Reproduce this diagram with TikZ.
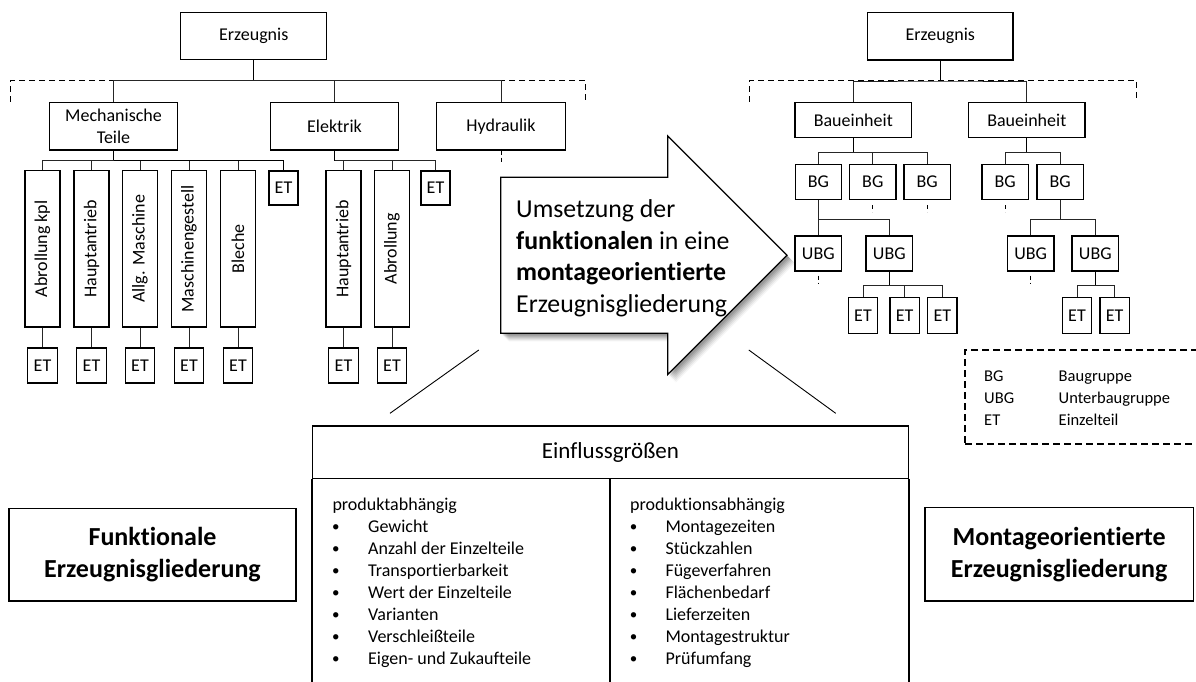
\documentclass[tikz,border=0pt]{standalone}
\usepackage{fontspec}
\setmainfont{Carlito}[Ligatures={NoCommon,NoRequired,NoContextual}]
\usepackage{graphicx}

% outline of the big transfer arrow
\newcommand\umsArrow{(500.7,177.3) -- (667.7,177.3) -- (667.7,136) -- (787,255.3) -- (667.7,374.6) -- (667.7,333.3) -- (500.7,333.3) -- cycle}

\begin{document}
\begin{tikzpicture}[x=1pt,y=-1pt,
  box/.style={draw, line width=1.3pt, inner sep=0pt, align=center, fill=white,
              font=\fontsize{18}{22.6}\selectfont},
  tallbox/.style={box, minimum width=35pt, minimum height=156.3pt},
  etbox/.style={box, minimum width=29.5pt, minimum height=35pt},
  bgbox/.style={box, minimum width=46.5pt, minimum height=34.8pt},
  link/.style={line width=0.9pt, draw=black!85},
  trunk/.style={line width=1.3pt},
  cut/.style={line width=0.9pt, dash pattern=on 6pt off 4pt},
  stub/.style={line width=0.9pt, dash pattern=on 4pt off 3pt},
  bigbox/.style={draw, line width=1.3pt, inner sep=0pt, align=center,
                 font=\bfseries\fontsize{26}{31.7}\selectfont},
  arrowtext/.style={anchor=base west, inner sep=0pt, font=\fontsize{25.8}{31}\selectfont},
  listtext/.style={anchor=base west, inner sep=0pt, font=\fontsize{18}{22}\selectfont},
  bullettext/.style={anchor=base west, inner sep=0pt, font=\fontsize{15}{22}\selectfont},
  legtext/.style={anchor=base west, inner sep=0pt, font=\fontsize{16.5}{22}\selectfont},
]
\useasboundingbox (0,0) rectangle (1196,682);
\clip (0,0) rectangle (1196,682);
\fill[white] (0,0) rectangle (1196,682);

% ---------------- functional product structure (left tree)
\coordinate (lcutA) at (10,101.7);
\coordinate (lcutB) at (10,80.7);
\coordinate (lcutC) at (585.5,80.7);
\coordinate (lcutD) at (585.5,101.7);
\draw[cut] (lcutA) -- (lcutB) -- (lcutC) -- (lcutD);

\node[box, minimum width=146pt, minimum height=46.7pt] (lprod) at (253.7,36) {Erzeugnis};
\node[box, minimum width=128.4pt, minimum height=47.3pt] (mech) at (113.5,126.3) {Mechanische\\Teile};
\node[box, minimum width=128.4pt, minimum height=47.3pt] (elek) at (334.5,126.3) {Elektrik};
\node[box, minimum width=128.9pt, minimum height=47.3pt] (hydr) at (501,126.3) {Hydraulik};

\draw[trunk] (lprod.south) -- ++(0,20.7) coordinate (lbr);
\draw[link] (mech.north) |- (lbr) -| (hydr.north);
\draw[link] (lbr) -| (elek.north);
\draw[stub] (hydr.south) -- ++(0,13);

\foreach \n/\x/\t in {1/42.5/Abrollung kpl, 2/91.5/Hauptantrieb, 3/140/Allg. Maschine,
                      4/189/Maschinengestell, 5/238/Bleche, 6/343.5/Hauptantrieb, 7/392/Abrollung} {
  \node[tallbox] (tb\n) at (\x,248.8) {\rotatebox{90}{\t}};
  \node[etbox] (tbet\n) at (\x,365.5) {ET};
  \draw[link] (tb\n.south) -- (tbet\n.north);
}
\node[etbox, minimum width=29pt, minimum height=34pt] (met) at (283.5,188) {ET};
\node[etbox, minimum width=29pt, minimum height=34pt] (eet) at (435.5,188) {ET};

\draw[trunk] (mech.south) -- ++(0,10) coordinate (mbr);
\foreach \n in {1,...,5} \draw[link] (mbr) -| (tb\n.north);
\draw[trunk] (mbr) -| (met.north);
\draw[trunk] (elek.south) -- ++(0,10) coordinate (ebr);
\foreach \n in {6,7} \draw[link] (ebr) -| (tb\n.north);
\draw[link] (ebr) -| (eet.north);

% ---------------- assembly oriented product structure (right tree)
\coordinate (rcutA) at (749,101.7);
\coordinate (rcutB) at (749,80.7);
\coordinate (rcutC) at (1136.7,80.7);
\coordinate (rcutD) at (1136.7,101.7);
\draw[cut] (rcutA) -- (rcutB) -- (rcutC) -- (rcutD);

\node[box, minimum width=145.3pt, minimum height=47.3pt] (rprod) at (940.3,36.3) {Erzeugnis};
\node[box, minimum width=116.7pt, minimum height=34.6pt] (be1) at (853.3,120) {Baueinheit};
\node[box, minimum width=116.3pt, minimum height=34.6pt] (be2) at (1026.8,120) {Baueinheit};
\draw[trunk] (rprod.south) -- ++(0,20.4) coordinate (rbr);
\draw[link] (be1.north) |- (rbr) -| (be2.north);

\foreach \n/\x in {1/818.5, 2/872.8, 3/927.2, 4/1005.2, 5/1060.2}
  \node[bgbox] (bg\n) at (\x,182) {BG};
\foreach \n/\x in {1/818.3, 2/889.3, 3/1030.7, 4/1095.3}
  \node[bgbox, minimum width=46.7pt, minimum height=35pt] (ubg\n) at (\x,253.5) {UBG};
\foreach \n/\x in {1/863, 2/904.7, 3/942.3, 4/1077, 5/1114.7}
  \node[etbox, minimum width=29.4pt, minimum height=36pt] (ret\n) at (\x,315.3) {ET};

\draw[trunk] (be1.south) -- ++(0,14.4) coordinate (b1br);
\foreach \n in {1,2,3} \draw[link] (b1br) -| (bg\n.north);
\draw[trunk] (be2.south) -- ++(0,14.4) coordinate (b2br);
\foreach \n in {4,5} \draw[link] (b2br) -| (bg\n.north);

\draw[link] (bg1.south) -- ++(0,19) coordinate (g1br);
\draw[link] (g1br) -| (ubg1.north);
\draw[link] (g1br) -| (ubg2.north);
\draw[link] (bg5.south) -- ++(0,19) coordinate (g5br);
\draw[link] (g5br) -| (ubg3.north);
\draw[link] (g5br) -| (ubg4.north);

\draw[trunk] (ubg2.south) -- ++(0,13.3) coordinate (u2br);
\foreach \n in {1,2,3} \draw[link] (u2br) -| (ret\n.north);
\draw[trunk] (ubg4.south) -- ++(0,13.3) coordinate (u4br);
\foreach \n in {4,5} \draw[link] (u4br) -| (ret\n.north);

\foreach \n in {2,3,4} \draw[stub] ([yshift=-5pt]bg\n.south) -- ++(0,7);
\foreach \n in {1,3} \draw[stub] ([yshift=-4pt]ubg\n.south) -- ++(0,8);

% ---------------- legend
\node[draw, line width=1.3pt, dash pattern=on 7pt off 4pt, minimum width=240pt,
      minimum height=94pt, inner sep=0pt] (legend) at (1085,397) {};
\node[legtext] (lgA) at (984,381.6) {BG};
\node[legtext] (lgB) at (984,403.6) {UBG};
\node[legtext] (lgC) at (984,425.4) {ET};
\node[legtext] (lgD) at (1058.5,381.6) {Baugruppe};
\node[legtext] (lgE) at (1058.5,403.6) {Unterbaugruppe};
\node[legtext] (lgF) at (1058.5,425.4) {Einzelteil};

% ---------------- transfer arrow with soft shadow
\foreach \d/\op in {8/0.04,7/0.05,6/0.06,5/0.07,4/0.08,3/0.09,2/0.1}
  \fill[black, opacity=\op, shift={(\d,\d)}] \umsArrow;
\draw[line width=1.3pt, fill=white, line join=miter] \umsArrow;
\node[arrowtext] (at1) at (516,217.3) {Umsetzung der};
\node[arrowtext] (at2) at (516,249) {\textbf{funktionalen} in eine};
\node[arrowtext] (at3) at (516,280.5) {\textbf{montageorientierte}};
\node[arrowtext] (at4) at (516,312) {Erzeugnisgliederung};

% ---------------- influencing factors
\coordinate (fanL1) at (478.8,350);
\coordinate (fanL2) at (390,413.3);
\coordinate (fanR1) at (748.8,350);
\coordinate (fanR2) at (835.7,413.3);
\draw[line width=0.9pt] (fanL1) -- (fanL2);
\draw[line width=0.9pt] (fanR1) -- (fanR2);

\node[draw, line width=1.3pt, minimum width=595.6pt, minimum height=52.3pt, inner sep=0pt,
      font=\fontsize{23}{28}\selectfont] (einfl) at (610.5,452.2) {Einflussgrößen};
\draw[line width=1.3pt] (einfl.south west) -- ++(0,220);
\draw[line width=1.3pt] (einfl.south east) -- ++(0,220);
\draw[line width=1.3pt] (einfl.south) ++(-0.5,0) coordinate (colsplit) -- ++(0,220);

\node[listtext] (pa0) at (332.3,510.7) {produktabhängig};
\foreach \i/\t in {1/Gewicht, 2/Anzahl der Einzelteile, 3/Transportierbarkeit,
                   4/Wert der Einzelteile, 5/Varianten, 6/Verschleißteile,
                   7/Eigen- und Zukaufteile} {
  \node[bullettext] (pab\i) at (332,509.5+22*\i) {•};
  \node[listtext] (pa\i) at (368,510.7+22*\i) {\t};
}
\node[listtext] (pb0) at (630,510.7) {produktionsabhängig};
\foreach \i/\t in {1/Montagezeiten, 2/Stückzahlen, 3/Fügeverfahren, 4/Flächenbedarf,
                   5/Lieferzeiten, 6/Montagestruktur, 7/Prüfumfang} {
  \node[bullettext] (pbb\i) at (629.7,509.5+22*\i) {•};
  \node[listtext] (pb\i) at (665.3,510.7+22*\i) {\t};
}

% ---------------- captions
\node[bigbox, minimum width=287pt, minimum height=92.7pt] (funk) at (152.5,554.7)
  {Funktionale\\Erzeugnisgliederung};
\node[bigbox, minimum width=268.3pt, minimum height=93.3pt] (mont) at (1059.2,554.4)
  {Montageorientierte\\Erzeugnisgliederung};
\end{tikzpicture}
\end{document}
